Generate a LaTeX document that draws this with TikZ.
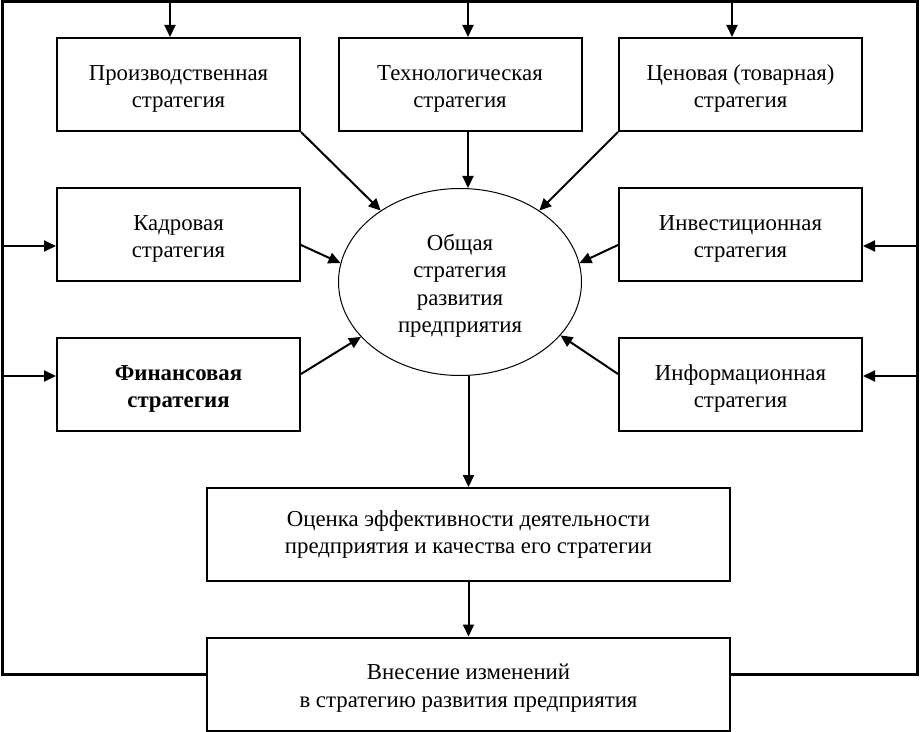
\documentclass[tikz,border=0pt]{standalone}
\usepackage{fontspec}
\setmainfont{Liberation Serif}
\usepackage{tikz}
\usetikzlibrary{arrows.meta,shapes.geometric}
\newcommand{\tp}{\rule{0pt}{12pt}}
\tikzset{
	strat/.style={draw,line width=1pt,minimum width=121.5pt,minimum height=46.5pt,align=center,inner sep=2pt},
	goal/.style={draw,ellipse,line width=0.5pt,minimum width=121.5pt,minimum height=93.5pt,align=center,inner sep=1pt},
	arr/.style={line width=1pt,-{Triangle[length=6pt,width=5.5pt]}},
	frame/.style={line width=1.5pt}
}
\begin{document}
\begin{tikzpicture}[x=0.5pt,y=-0.5pt]
		\fontsize{11.4}{13.6}\selectfont
		\useasboundingbox (0,0) rectangle (920,732);
		\coordinate (tl) at (2,2);
		\coordinate (tr) at (917,2);
		\coordinate (bl) at (2,674);
		\coordinate (br) at (917,674);

		\node[strat] (prod) at (178.5,84.5) {\tp Производственная\\стратегия};
		\node[strat] (tech) at (460,84.5) {\tp Технологическая\\стратегия};
		\node[strat] (price) at (740.5,84.5) {\tp Ценовая (товарная)\\стратегия};
		\node[strat] (kadr) at (178.5,234.5) {\tp Кадровая\\стратегия};
		\node[strat] (inv) at (740.5,234.5) {\tp Инвестиционная\\стратегия};
		\node[strat,font=\bfseries] (fin) at (178.5,384.5) {\tp Финансовая\\стратегия};
		\node[strat] (info) at (740.5,384.5) {\tp Информационная\\стратегия};
		\node[goal] (gen) at (460,282) {\tp Общая\\стратегия\\развития\\предприятия};
		\node[strat,minimum width=261.5pt] (eval) at (468.5,534.5) {Оценка эффективности деятельности\\предприятия и качества его стратегии};
		\node[strat,minimum width=261.5pt] (chg) at (468.5,684) {\tp Внесение изменений\\в стратегию развития предприятия};

		% feedback frame
		\draw[frame] (chg.west |- bl) -- (bl) -- (tl) -- (tr) -- (br) -- (chg.east |- br);
		\coordinate (prodin) at ([xshift=-4.25pt]prod.north);
		\coordinate (techin) at ([xshift=4pt]tech.north);
		\coordinate (pricein) at ([xshift=-4.25pt]price.north);
		\draw[arr] (prodin |- tl) -- (prodin);
		\draw[arr] (techin |- tl) -- (techin);
		\draw[arr] (pricein |- tl) -- (pricein);
		\coordinate (kadrin) at ([yshift=-5.75pt]kadr.west);
		\coordinate (finin) at ([yshift=4.25pt]fin.west);
		\coordinate (invin) at ([yshift=-5.75pt]inv.east);
		\coordinate (infoin) at ([yshift=4.25pt]info.east);
		\draw[arr] (kadrin -| tl) -- (kadrin);
		\draw[arr] (finin -| tl) -- (finin);
		\draw[arr] (invin -| tr) -- (invin);
		\draw[arr] (infoin -| tr) -- (infoin);

		% strategies into the general one
		\draw[arr] (prod.south east) -- (gen.138);
		\draw[arr] ([xshift=4pt]tech.south) -- ([xshift=4pt]tech.south |- gen.north);
		\draw[arr] (price.south west) -- (gen.42);
		\draw[arr] ([yshift=-5.25pt]kadr.east) -- (gen.171);
		\draw[arr] ([yshift=-5.25pt]inv.west) -- (gen.9);
		\draw[arr] ([yshift=5.25pt]fin.east) -- (gen.209);
		\draw[arr] ([yshift=5.25pt]info.west) -- (gen.332);

		\draw[arr] (gen.south -| eval.north) -- (eval.north);
		\draw[arr] (eval) -- (chg);
	\end{tikzpicture}
\end{document}
